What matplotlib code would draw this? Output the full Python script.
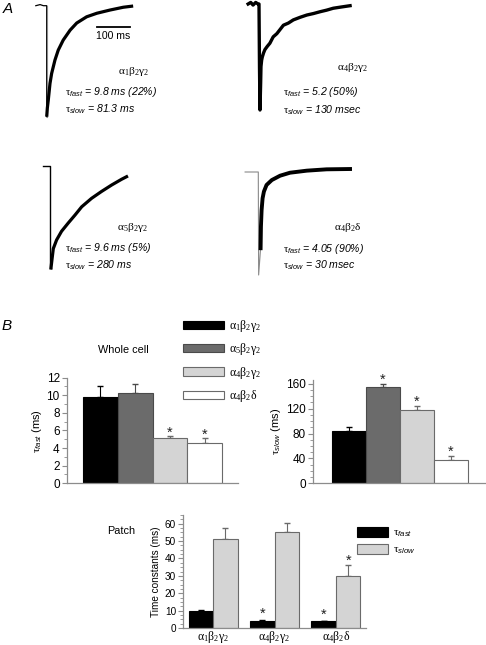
import numpy as np
import matplotlib
matplotlib.use('Agg')
import matplotlib.pyplot as plt
from matplotlib.ticker import MultipleLocator

#----------------------------------------------------------------------
# DATA

# panel A: currents (time in ms from onset, current normalised to peak)
t1_raw = [-33, -20, -10, 0, 0]
i1_raw = [0.0, 0.01, 0.0, 0.0, -1.0]
t1_fit = [0, 2, 4.8, 10, 15, 25, 35, 50, 71, 91, 121, 152, 192, 232, 262]
i1_fit = [-1.0, -0.92, -0.85, -0.70, -0.61, -0.49, -0.40, -0.31, -0.22, -0.156, -0.10, -0.068, -0.039, -0.014, -0.003]

t2_trace = [-33, -25, -18, -10, -3, 0, 1.5, 3, 5, 6, 8, 10, 14, 18, 25, 33, 43, 54, 64, 74, 89, 104, 125, 145, 165, 185, 205, 225, 250, 276]
i2_trace = [0.0, 0.015, -0.01, 0.015, 0.0, 0.0, -0.6, -1.0, -0.745, -0.59, -0.53, -0.50, -0.46, -0.43, -0.40, -0.37, -0.31, -0.28, -0.24, -0.20, -0.18, -0.15, -0.125, -0.104, -0.09, -0.073, -0.058, -0.04, -0.028, -0.016]

t3_raw = [-21, 0, 0, 3]
i3_raw = [0.0, 0.0, -1.0, -1.0]
t3_fit = [3, 7, 10, 20, 35, 55, 76, 96, 126, 156, 187, 217, 232]
i3_fit = [-1.0, -0.89, -0.81, -0.725, -0.64, -0.56, -0.48, -0.40, -0.317, -0.25, -0.186, -0.13, -0.105]

t4_raw = [-40, 0, 1, 7]
i4_raw = [0.0, 0.0, -1.0, -0.74]
t4_fit = [7, 8, 10, 13, 17, 25, 41, 66, 96, 147, 207, 278]
i4_fit = [-0.74, -0.53, -0.37, -0.255, -0.19, -0.126, -0.078, -0.036, -0.007, 0.013, 0.026, 0.029]

receptors = [r'$\mathrm{\alpha_1\beta_2\gamma_2}$', r'$\mathrm{\alpha_4\beta_2\gamma_2}$',
             r'$\mathrm{\alpha_5\beta_2\gamma_2}$', r'$\mathrm{\alpha_4\beta_2\delta}$']
tau_fast_txt = ['9.8 ms (22%)', '5.2 (50%)', '9.6 ms (5%)', '4.05 (90%)']
tau_slow_txt = ['81.3 ms', '130 msec', '280 ms', '30 msec']

# panel B: whole cell
wc_cells = [r'$\mathrm{\alpha_1\beta_2\gamma_2}$', r'$\mathrm{\alpha_5\beta_2\gamma_2}$',
            r'$\mathrm{\alpha_4\beta_2\gamma_2}$', r'$\mathrm{\alpha_4\beta_2\delta}$']
wc_fast = [9.8, 10.3, 5.2, 4.6]
wc_fast_err = [1.3, 0.95, 0.2, 0.5]
wc_fast_sig = [False, False, True, True]
wc_slow = [84, 154, 117, 37]
wc_slow_err = [6, 6, 7, 7]
wc_slow_sig = [False, True, True, True]

# panel B: patch
patch_cells = [r'$\mathrm{\alpha_1\beta_2\gamma_2}$', r'$\mathrm{\alpha_4\beta_2\gamma_2}$',
               r'$\mathrm{\alpha_4\beta_2\delta}$']
patch_fast = [10.0, 4.0, 3.8]
patch_fast_err = [0.4, 0.4, 0.5]
patch_fast_sig = [False, True, True]
patch_slow = [51, 55, 30]
patch_slow_err = [6.3, 5.2, 6.5]
patch_slow_sig = [False, False, True]

#----------------------------------------------------------------------
# STYLE
plt.rcParams['font.family'] = ['Liberation Sans', 'DejaVu Sans']
plt.rcParams['mathtext.fontset'] = 'custom'
plt.rcParams['mathtext.rm'] = 'Liberation Serif'
plt.rcParams['mathtext.it'] = 'Liberation Serif:italic'
plt.rcParams['mathtext.sf'] = 'Liberation Sans:italic'

W, H = 486, 645
fig = plt.figure(figsize=(W/100, H/100), dpi=100)

def px_axes(x0, y0, x1, y1):
    return fig.add_axes([x0/W, 1-y1/H, (x1-x0)/W, (y1-y0)/H])

def fig_text(x, y, s, **kw):
    fig.text(x/W, 1-y/H, s, **kw)

MS_PER_PX = 100/33.0

def trace_axes(xd, yb, amp):
    # axes calibrated so that t=0 sits at pixel xd and I=0 / I=-1 at yb / yb+amp
    x0, x1 = xd-20, xd+100
    y0, y1 = yb-8, yb+amp+8
    ax = px_axes(x0, y0, x1, y1)
    ax.set_xlim((x0-xd)*MS_PER_PX, (x1-xd)*MS_PER_PX)
    ax.set_ylim(-(y1-yb)/amp, -(y0-yb)/amp)
    ax.axis('off')
    return ax

#----------------------------------------------------------------------
# PANEL A
ax1 = trace_axes(46.7, 5.7, 111)
ax1.plot(t1_raw, i1_raw, color='black', lw=0.9, clip_on=False)
ax1.plot(t1_raw[-2:], i1_raw[-2:], color='#8a8a8a', lw=0.8, clip_on=False)
ax1.plot(t1_fit, i1_fit, color='black', lw=2.3, solid_capstyle='butt', clip_on=False)
ax1.plot([152, 252], [-0.19, -0.19], color='black', lw=1.3, clip_on=False)
ax1.text(202, -0.275, '100 ms', ha='center', va='center', fontsize=7.6)

ax2 = trace_axes(259, 4, 106)
ax2.plot(t2_trace, i2_trace, color='black', lw=2.4, clip_on=False)

ax3 = trace_axes(50, 166, 102)
ax3.plot(t3_raw, i3_raw, color='black', lw=1.0, clip_on=False)
ax3.plot(t3_fit, i3_fit, color='black', lw=2.3, clip_on=False)

ax4 = trace_axes(258.3, 172, 103)
ax4.plot(t4_raw, i4_raw, color='#8a8a8a', lw=0.8, clip_on=False)
ax4.plot(t4_fit, i4_fit, color='black', lw=2.8, clip_on=False)

# labels: (name x, name y, tau x, tau fast y, tau slow y)
lab_pos = [(118, 72, 65, 92, 109), (337, 68, 283, 92, 110),
           (117, 227, 65, 248, 265), (334, 227, 283, 249, 265)]
for k in range(4):
    nx, ny, tx, fy, sy = lab_pos[k]
    fig_text(nx, ny, receptors[k], fontsize=8.2, va='center', ha='left')
    fig_text(tx, fy, r'$\mathrm{\tau}_{\mathsf{fast}}$ = ' + tau_fast_txt[k],
             fontsize=7.6, style='italic', va='center', ha='left')
    fig_text(tx, sy, r'$\mathrm{\tau}_{\mathsf{slow}}$ = ' + tau_slow_txt[k],
             fontsize=7.6, style='italic', va='center', ha='left')

fig_text(8, 9, 'A', fontsize=11, style='italic', ha='center', va='center')
fig_text(7, 326, 'B', fontsize=11, style='italic', ha='center', va='center')

#----------------------------------------------------------------------
# PANEL B
bar_cols = ['black', '#6b6b6b', '#d4d4d4', 'white']
edge_cols = ['black', '#4a4a4a', '#6a6a6a', '#6a6a6a']
spine_col = '#8c8c8c'

def style_axis(ax, fs):
    for s in ['top', 'right']:
        ax.spines[s].set_visible(False)
    for s in ['left', 'bottom']:
        ax.spines[s].set_color(spine_col)
        ax.spines[s].set_linewidth(0.9)
    ax.tick_params(axis='y', which='major', length=3.5, width=0.8, color=spine_col,
                   labelsize=fs, pad=1.5)
    ax.tick_params(axis='y', which='minor', length=2, width=0.6, color=spine_col)
    ax.tick_params(axis='x', length=0, labelsize=fs)

def star(ax, x, y):
    ax.text(x, y, '*', ha='center', va='bottom', fontsize=10.5, color='#222222')

def bar_plot(ax, vals, errs, sigs, top_pad):
    x = np.arange(len(vals))
    bars = ax.bar(x, vals, width=1.0, color=bar_cols, edgecolor=edge_cols, linewidth=0.8, zorder=2)
    for k in range(len(vals)):
        ax.errorbar(x[k], vals[k], yerr=[[0], [errs[k]]], fmt='none',
                    ecolor=edge_cols[k] if k else 'black', elinewidth=0.8, capsize=2.5, zorder=1)
        if sigs[k]:
            star(ax, x[k], vals[k]+errs[k]-top_pad)
    return bars

# whole cell tau fast
axf = px_axes(66.7, 377.7, 238.3, 483.3)
wc_bars = bar_plot(axf, wc_fast, wc_fast_err, wc_fast_sig, 0.4)
axf.set_xlim(-0.96, 3.96)
axf.set_ylim(0, 12)
axf.yaxis.set_major_locator(MultipleLocator(2))
axf.yaxis.set_minor_locator(MultipleLocator(1))
axf.set_xticks([])
style_axis(axf, 8.5)
axf.set_ylabel(r'$\mathrm{\tau}_{\mathsf{fast}}$ (ms)', fontsize=8, labelpad=2)

# whole cell tau slow
axs = px_axes(313, 380, 486, 483.3)
bar_plot(axs, wc_slow, wc_slow_err, wc_slow_sig, 5)
axs.set_xlim(-1.06, 4.03)
axs.set_ylim(0, 166)
axs.yaxis.set_major_locator(MultipleLocator(40))
axs.yaxis.set_minor_locator(MultipleLocator(10))
axs.set_xticks([])
style_axis(axs, 8.5)
axs.set_ylabel(r'$\mathrm{\tau}_{\mathsf{slow}}$ (ms)', fontsize=8, labelpad=2)

fig_text(123, 350, 'Whole cell', fontsize=7.8, ha='center', va='center')
fig.legend(wc_bars, wc_cells, loc='upper left', bbox_to_anchor=(183/W, 1-318/H),
           frameon=False, fontsize=8.5, handlelength=3.5, handleheight=0.7,
           handletextpad=0.4, labelspacing=0.62, borderaxespad=0, borderpad=0)

# patch
axp = px_axes(183, 515, 366, 628)
gx = np.arange(len(patch_cells))
bw = 0.4
pf = axp.bar(gx-bw/2, patch_fast, width=bw, color='black', edgecolor='black', linewidth=0.8, zorder=2)
ps = axp.bar(gx+bw/2, patch_slow, width=bw, color='#d4d4d4', edgecolor='#6a6a6a', linewidth=0.8, zorder=2)
axp.errorbar(gx-bw/2, patch_fast, yerr=[np.zeros(3), patch_fast_err], fmt='none',
             ecolor='black', elinewidth=0.8, capsize=2.5, zorder=1)
axp.errorbar(gx+bw/2, patch_slow, yerr=[np.zeros(3), patch_slow_err], fmt='none',
             ecolor='#6a6a6a', elinewidth=0.8, capsize=2.5, zorder=1)
for k in range(3):
    if patch_fast_sig[k]:
        star(axp, gx[k]-bw/2, patch_fast[k]+patch_fast_err[k]-0.5)
    if patch_slow_sig[k]:
        star(axp, gx[k]+bw/2, patch_slow[k]+patch_slow_err[k]-2)
axp.set_xlim(-0.49, 2.49)
axp.set_ylim(0, 65)
axp.yaxis.set_major_locator(MultipleLocator(10))
axp.yaxis.set_minor_locator(MultipleLocator(2.5))
axp.set_xticks(gx)
axp.set_xticklabels(patch_cells)
style_axis(axp, 7.2)
axp.tick_params(axis='x', pad=1, labelsize=8.5)
axp.set_ylabel('Time constants (ms)', fontsize=7.2, labelpad=3)

fig_text(121, 531, 'Patch', fontsize=7.8, ha='center', va='center')
fig.legend([pf, ps], [r'$\mathrm{\tau}_{\mathsf{fast}}$', r'$\mathrm{\tau}_{\mathsf{slow}}$'],
           loc='upper left', bbox_to_anchor=(357/W, 1-527/H), frameon=False, fontsize=8,
           handlelength=2.8, handleheight=1.0, handletextpad=0.4, labelspacing=0.4,
           borderaxespad=0, borderpad=0)

fig.savefig('out.png', dpi=100)
